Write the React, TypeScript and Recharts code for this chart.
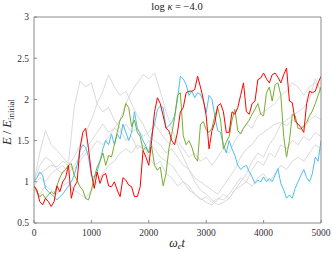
import React from 'react';
import { LineChart, Line, XAxis, YAxis } from 'recharts';

const T50 = Array.from({ length: 101 }, (_, i) => i * 50);
const T100 = Array.from({ length: 51 }, (_, i) => i * 100);

const xTicks = [0, 1000, 2000, 3000, 4000, 5000];
const yTicks = [0.5, 1, 1.5, 2, 2.5, 3];
const yTickLabels = ['0.5', '1', '1.5', '2', '2.5', '3'];

const redSeries = [
  0.95, 0.9, 0.76, 0.72, 0.8, 0.76, 0.7, 0.76, 0.95, 0.88,
  1.0, 1.05, 1.2, 0.8, 0.94, 1.0, 1.4, 1.6, 1.65, 1.4,
  1.1, 0.92, 1.12, 0.98, 1.08, 1.1, 0.95, 0.94, 1.0, 0.9,
  0.82, 1.05, 1.02, 0.96, 0.94, 0.82, 0.82, 0.94, 1.38, 1.3,
  1.2, 1.5, 1.85, 2.02, 1.95, 1.8, 1.65, 1.62, 1.5, 1.45,
  1.6, 1.85, 1.9, 2.08, 2.1, 2.1, 2.12, 2.28, 2.15, 2.0,
  1.8, 1.4, 1.62, 1.72, 1.92, 1.95, 1.85, 1.6, 1.6, 1.85,
  1.82, 1.9, 2.05, 2.2, 1.85, 1.82, 1.95, 1.98, 2.24, 2.26,
  2.32, 2.25, 2.2, 2.3, 2.32, 2.27, 2.2, 2.3, 2.38, 1.98,
  1.96, 1.74, 1.7, 1.66, 1.6, 1.95, 2.1, 2.08, 2.1, 2.2,
  2.28,
];

const greenSeries = [
  0.95, 0.88, 0.82, 0.85, 0.8, 0.84, 0.88, 0.85, 0.95, 1.05,
  1.12, 1.15, 1.2, 1.22, 1.08, 1.02, 0.94, 0.9, 0.8, 0.78,
  0.9, 1.05, 1.18, 1.25, 1.35, 1.2, 1.32, 1.3, 1.45, 1.6,
  1.75, 1.8, 1.95, 1.9, 1.67, 1.75, 1.6, 1.55, 1.38, 1.42,
  1.35, 1.43, 1.2, 1.14, 1.18, 0.95, 1.1, 1.4, 1.58, 1.78,
  2.05, 2.08, 1.56, 1.45, 1.5, 1.42, 1.3, 1.25, 1.7, 1.73,
  1.63, 1.6, 1.65, 1.8, 1.9, 1.75, 1.4, 1.48, 1.55, 1.75,
  1.88, 1.62, 1.58, 1.65, 1.7, 1.75, 1.82, 1.88, 1.95, 1.82,
  1.8, 2.08, 2.15, 1.98, 2.18, 2.2, 2.05, 1.55, 1.3, 1.5,
  1.82, 1.8, 1.65, 1.64, 1.68, 1.72, 1.8, 1.86, 1.95, 2.05,
  2.15,
];

const blueSeries = [
  1.0, 1.05, 1.12, 1.08, 0.92, 0.88, 0.85, 0.82, 0.78, 0.82,
  0.85, 0.9, 0.95, 1.0, 1.08, 1.2, 1.38, 1.45, 1.42, 1.3,
  1.08, 1.05, 1.12, 1.25, 1.4, 1.5, 1.45, 1.58, 1.45, 1.58,
  1.52, 1.7, 1.6, 1.5, 1.6, 1.85, 1.65, 1.58, 1.5, 1.43,
  1.35, 1.58, 1.7, 1.88, 1.92, 1.9, 1.65, 1.68, 1.72, 1.8,
  2.0, 2.28, 2.25, 2.18, 2.05, 2.1, 2.02, 2.08, 2.06, 1.98,
  1.84, 2.05, 2.0, 1.8, 1.62, 1.6, 1.45, 1.35, 1.5, 1.4,
  1.32, 1.2, 1.15, 1.18, 1.2, 1.12, 1.06, 0.98, 1.02, 1.0,
  1.06, 1.0, 1.04, 1.0, 1.08, 1.16, 0.98, 0.9, 0.8, 0.84,
  0.8, 0.92, 1.0, 1.08, 1.15, 1.05, 1.0, 1.1, 1.3, 1.25,
  1.5,
];

const grayA = [
  1.0, 1.35, 1.62, 1.45, 1.38, 1.3, 1.22, 1.9, 2.22, 2.15,
  2.2, 1.95, 1.85, 1.9, 1.75, 1.65, 1.5, 1.55, 1.4, 1.45,
  1.3, 1.2, 1.25, 1.1, 1.05, 0.95, 1.0, 0.9, 0.85, 0.78,
  0.82, 0.75, 0.8, 0.78, 0.85, 0.95, 1.05, 1.0, 1.15, 1.25,
  1.2, 1.35, 1.3, 1.45, 1.4, 1.5, 1.45, 1.55, 1.5, 1.6,
  1.55,
];
const grayB = [
  1.0, 1.1, 1.15, 1.2, 1.18, 1.25, 1.2, 1.3, 1.45, 1.6,
  1.75, 1.95, 2.1, 2.3, 2.15, 2.05, 2.1, 1.95, 1.8, 1.7,
  1.55, 1.5, 1.45, 1.35, 1.4, 1.3, 1.2, 1.15, 1.05, 1.0,
  0.95, 0.9, 0.85, 0.95, 1.05, 1.15, 1.3, 1.4, 1.45, 1.55,
  1.6, 1.65, 1.7, 1.72, 1.68, 1.75, 1.7, 1.65, 1.75, 1.8,
  1.75,
];
const grayC = [
  0.95, 1.05, 1.0, 1.1, 1.15, 1.1, 1.2, 1.15, 1.25, 1.35,
  1.4, 1.5, 1.45, 1.55, 1.65, 1.75, 1.95, 2.1, 2.2, 2.3,
  2.25, 2.32, 2.1, 1.85, 1.65, 1.45, 1.3, 1.15, 1.0, 0.9,
  0.85, 0.78, 0.72, 0.75, 0.8, 0.9, 1.0, 1.1, 1.25, 1.35,
  1.3, 1.45, 1.55, 1.7, 1.75, 1.8, 1.85, 1.9, 2.0, 2.25,
  2.1,
];
const grayD = [
  0.9, 0.85, 0.95, 0.9, 0.85, 0.95, 1.0, 0.9, 0.85, 0.8,
  0.9, 1.0, 1.1, 1.2, 1.25, 1.35, 1.4, 1.35, 1.45, 1.4,
  1.5, 1.4, 1.3, 1.25, 1.2, 1.1, 1.0, 0.95, 0.85, 0.8,
  0.75, 0.72, 0.78, 0.85, 0.8, 0.9, 0.95, 1.0, 0.95, 1.05,
  1.1, 1.0, 1.1, 1.2, 1.15, 1.25, 1.3, 1.25, 1.35, 1.45,
  1.4,
];
const grayE = [
  1.0, 1.2, 1.3, 1.25, 1.15, 1.2, 1.1, 1.2, 1.3, 1.4,
  1.5, 1.6, 1.7, 1.6, 1.65, 1.6, 1.7, 1.6, 1.65, 1.55,
  1.6, 1.7, 1.6, 1.5, 1.45, 1.5, 1.4, 1.3, 1.35, 1.25,
  1.3, 1.2, 1.3, 1.4, 1.35, 1.5, 1.6, 1.7, 1.65, 1.8,
  1.85, 1.9, 1.95, 2.05, 2.1, 2.2, 2.15, 2.05, 2.15, 2.2,
  2.1,
];

const build = (ts: number[], vs: number[]) => ts.map((t, i) => ({ t, v: vs[i] }));

const grays = [grayA, grayB, grayC, grayD, grayE];
const colored = [
  { vals: blueSeries, color: '#4DBEEE' },
  { vals: greenSeries, color: '#77AC30' },
  { vals: redSeries, color: '#FF0000' },
];

const FONT = "'Liberation Serif', 'DejaVu Serif', serif";
const FRAME = '#8a8a8a';

const XLabel = () => (
  <text x={177} y={247} textAnchor="middle" fontFamily={FONT} fontSize={12} fill="#222">
    <tspan fontStyle="italic">ω</tspan>
    <tspan fontStyle="italic" fontSize={8.5} dy={2}>e</tspan>
    <tspan fontStyle="italic" dy={-2}>t</tspan>
  </text>
);

const YLabel = () => (
  <text x={11} y={122} transform="rotate(-90 11 122)" textAnchor="middle" fontFamily={FONT} fontSize={12.5} fill="#222">
    <tspan fontStyle="italic">E</tspan>
    <tspan> / </tspan>
    <tspan fontStyle="italic">E</tspan>
    <tspan fontSize={9} dy={2.5}>initial</tspan>
  </text>
);

const TitleLabel = () => (
  <text x={177} y={10} textAnchor="middle" fontFamily={FONT} fontSize={10.5} fill="#222">
    <tspan>log </tspan>
    <tspan fontStyle="italic">κ</tspan>
    <tspan> = −4.0</tspan>
  </text>
);

const frameData = [
  { t: 0, v: 3 },
  { t: 5000, v: 3 },
];

export default function App() {
  return (
    <div style={{ position: 'absolute', left: 0, top: 0 }}>
      <LineChart width={332} height={254} margin={{ top: 16, right: 10, bottom: 1, left: 0 }}>
        <XAxis
          dataKey="t"
          type="number"
          domain={[0, 5000]}
          ticks={xTicks}
          allowDataOverflow
          height={30}
          tickSize={-3}
          tickMargin={9}
          stroke={FRAME}
          tick={{ fontFamily: FONT, fontSize: 9.5, fill: '#333' }}
          label={<XLabel />}
        />
        <XAxis
          xAxisId="top"
          orientation="top"
          dataKey="t"
          type="number"
          domain={[0, 5000]}
          ticks={xTicks}
          allowDataOverflow
          height={1}
          tickSize={-3}
          tick={false}
          stroke={FRAME}
          label={<TitleLabel />}
        />
        <YAxis
          type="number"
          domain={[0.5, 3]}
          ticks={yTicks}
          allowDataOverflow
          width={34}
          tickSize={-3}
          tickMargin={8}
          stroke={FRAME}
          tickFormatter={(v: number) => yTickLabels[yTicks.indexOf(v)] ?? String(v)}
          tick={{ fontFamily: FONT, fontSize: 9.5, fill: '#333' }}
          label={<YLabel />}
        />
        <YAxis
          yAxisId="right"
          orientation="right"
          type="number"
          domain={[0.5, 3]}
          ticks={yTicks}
          allowDataOverflow
          width={1}
          tickSize={-3}
          tick={false}
          stroke={FRAME}
        />
        <Line
          xAxisId="top"
          yAxisId="right"
          data={frameData}
          dataKey="v"
          stroke="none"
          dot={false}
          legendType="none"
          isAnimationActive={false}
        />
        {grays.map((g, i) => (
          <Line
            key={'g' + i}
            data={build(T100, g)}
            dataKey="v"
            stroke="#d6d6d6"
            strokeWidth={0.9}
            dot={false}
            isAnimationActive={false}
          />
        ))}
        {colored.map((c, i) => (
          <Line
            key={'c' + i}
            data={build(T50, c.vals)}
            dataKey="v"
            stroke={c.color}
            strokeWidth={1}
            dot={false}
            isAnimationActive={false}
          />
        ))}
      </LineChart>
    </div>
  );
}
